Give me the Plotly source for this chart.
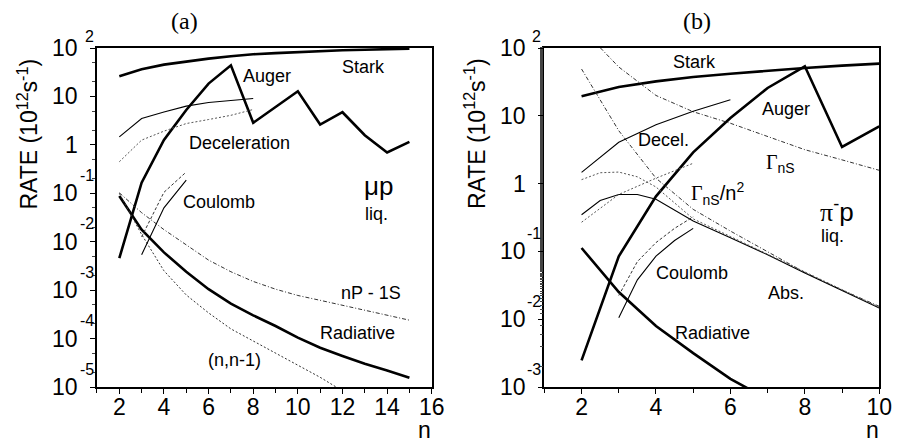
import numpy as np
import plotly.graph_objects as go

W, H = 909, 445

# ---------------- Panel (a): mu p, liquid ----------------
n_a = [2, 3, 4, 5, 6, 7, 8, 9, 10, 11, 12, 13, 14, 15]
stark_a_log = [1.416, 1.56, 1.657, 1.725, 1.78, 1.828, 1.87, 1.895, 1.918, 1.935, 1.952, 1.965, 1.976, 1.986]
auger_a_log = [-2.34, -0.78, 0.10, 0.72, 1.265, 1.643, 0.455, 0.78, 1.107, 0.42, 0.674, 0.20, -0.157, 0.063]
rad_a_log = [-1.056, -1.75, -2.22, -2.62, -2.98, -3.28, -3.52, -3.74, -3.98, -4.19, -4.36, -4.52, -4.66, -4.81]
np1s_a_log = [-0.99, -1.40, -1.75, -2.07, -2.38, -2.62, -2.82, -2.98, -3.11, -3.21, -3.31, -3.41, -3.51, -3.62]
nn1_n = [2, 3, 4, 5, 6, 7, 8, 9, 10, 11, 12]
nn1_a_log = [-1.0, -1.85, -2.6, -3.1, -3.47, -3.80, -4.05, -4.30, -4.55, -4.80, -5.08]
dec_n = [2, 3, 4, 5, 6, 7, 8]
dec_a_log = [0.166, 0.544, 0.68, 0.80, 0.874, 0.92, 0.956]
decdot_a_log = [-0.349, 0.098, 0.283, 0.44, 0.523, 0.61, 0.73]
coul_n = [3, 4, 5]
coul_a_log = [-2.27, -1.30, -0.73]
couldash_a_log = [-1.90, -0.98, -0.56]

# ---------------- Panel (b): pi- p, liquid ----------------
n_b = [2, 3, 4, 5, 6, 7, 8, 9, 10]
stark_b_log = [1.287, 1.425, 1.508, 1.572, 1.62, 1.666, 1.705, 1.74, 1.769]
auger_b_log = [-2.607, -1.073, -0.188, 0.461, 0.968, 1.41, 1.73, 0.54, 0.845]
gns_b_log = [2.29, 1.72, 1.30, 1.06, 0.89, 0.70, 0.50, 0.35, 0.196]
gnsn2_b_log = [1.69, 0.78, 0.08, -0.38, -0.70, -1.00, -1.31, -1.57, -1.81]
abs_n = [2, 2.5, 3, 3.5, 4, 5, 6, 7, 8, 9, 10]
abs_b_log = [-0.46, -0.25, -0.16, -0.16, -0.23, -0.55, -0.80, -1.05, -1.32, -1.58, -1.835]
hump_b_log = [0.058, 0.16, 0.17, 0.10, -0.05, -0.52, -0.78, -1.04, -1.31, -1.57, -1.825]
rise_n = [2, 3, 4, 5]
rise_b_log = [-0.57, -0.16, 0.08, 0.30]
decel_b_n = [2, 3, 4, 5, 6]
decel_b_log = [0.166, 0.609, 0.869, 1.066, 1.238]
coul_b_n = [3, 3.5, 4, 4.5, 5]
coul_b_log = [-1.98, -1.42, -1.07, -0.84, -0.66]
couldash_b_log = [-1.65, -1.15, -0.87, -0.66, -0.49]
rad_b_n = [2, 3, 4, 5, 6, 7]
rad_b_log = [-0.95, -1.60, -2.10, -2.50, -2.88, -3.18]

a_major = [2, 4, 6, 8, 10, 12, 14, 16]
a_minor = list(range(1, 17))
b_major = [2, 4, 6, 8, 10]
b_minor = list(range(1, 11))


def lin(v):
    return [10 ** x for x in v]


fig = go.Figure()

THICK = 2.6
THIN = 1.1
DOT = "2px,2px"
DASH = "3px,2px"
DASHDOT = "4px,2px,1px,2px"


def add(x, ylog, width, dash, ax, color="black"):
    fig.add_trace(go.Scatter(
        x=x, y=lin(ylog), mode="lines",
        line=dict(color=color, width=width, dash=dash),
        xaxis="x" if ax == 1 else "x2", yaxis="y" if ax == 1 else "y2",
        showlegend=False, hoverinfo="skip"))


# panel a
add(n_a, stark_a_log, THICK, "solid", 1)
add(n_a, auger_a_log, THICK, "solid", 1)
add(n_a, rad_a_log, THICK, "solid", 1)
add(n_a, np1s_a_log, 1.0, DASHDOT, 1, "#333")
add(nn1_n, nn1_a_log, 1.0, DOT, 1, "#333")
add(dec_n, dec_a_log, THIN, "solid", 1)
add(dec_n, decdot_a_log, 1.0, DOT, 1, "#555")
add(coul_n, coul_a_log, THIN, "solid", 1)
add(coul_n, couldash_a_log, 1.0, DASH, 1, "#333")

# panel b
add(n_b, stark_b_log, THICK, "solid", 2)
add(n_b, auger_b_log, THICK, "solid", 2)
add(rad_b_n, rad_b_log, THICK, "solid", 2)
add(n_b, gns_b_log, 1.0, DASHDOT, 2, "#333")
add(n_b, gnsn2_b_log, 1.0, DASHDOT, 2, "#333")
add(abs_n, abs_b_log, THIN, "solid", 2)
add(abs_n, hump_b_log, 1.0, DOT, 2, "#555")
add(rise_n, rise_b_log, 1.0, DOT, 2, "#555")
add(decel_b_n, decel_b_log, THIN, "solid", 2)
add(coul_b_n, coul_b_log, THIN, "solid", 2)
add(coul_b_n, couldash_b_log, 1.0, DASH, 2, "#333")


def px(x):
    return x / W


def py(y):
    return 1 - y / H


TOP, BOT = 48, 387
AL, AR = 98.4, 438
BL, BR = 552.25, 892

axis_common = dict(showline=True, linecolor="black", linewidth=1.5, mirror=True,
                   showgrid=False, zeroline=False, ticks="outside", tickcolor="black",
                   tickwidth=1.2)

fig.update_layout(
    width=W, height=H, margin=dict(l=0, r=0, t=0, b=0),
    plot_bgcolor="white", paper_bgcolor="white",
    font=dict(family="Liberation Sans, Arial, sans-serif", color="black"),
    xaxis=dict(domain=[px(AL), px(AR)], range=[1, 16], anchor="y",
               tickvals=a_major, ticklen=5, tickfont=dict(size=23), ticklabelstandoff=-6,
               minor=dict(tickvals=a_minor, ticks="outside", ticklen=4, tickcolor="black", showgrid=False),
               **axis_common),
    yaxis=dict(domain=[py(BOT), py(TOP)], type="log", range=[-5, 2], anchor="x",
               tickvals=[10 ** k for k in range(-5, 3)], showticklabels=False, ticklen=5,
               minor=dict(ticks="outside", ticklen=3, tickcolor="#444", showgrid=False),
               **axis_common),
    xaxis2=dict(domain=[px(BL), px(BR)], range=[1, 10], anchor="y2",
                tickvals=b_major, ticklen=5, tickfont=dict(size=23), ticklabelstandoff=-6,
                minor=dict(tickvals=b_minor, ticks="outside", ticklen=4, tickcolor="black", showgrid=False),
                **axis_common),
    yaxis2=dict(domain=[py(BOT), py(TOP)], type="log", range=[-3, 2], anchor="x2",
                tickvals=[10 ** k for k in range(-3, 3)], showticklabels=False, ticklen=5,
                minor=dict(ticks="outside", ticklen=3, tickcolor="#444", showgrid=False),
                **axis_common),
)

ann = []


def txt(x, y, s, size=18, family=None, xanchor="center", yanchor="middle", **kw):
    f = dict(size=size, color="black")
    if family:
        f["family"] = family
    ann.append(dict(x=px(x), y=py(y), xref="paper", yref="paper", text=s, showarrow=False,
                    font=f, xanchor=xanchor, yanchor=yanchor, **kw))


# y tick labels (PAW style: mantissa with exponent raised at the axis)
def ylabels(axis_left, yref, kmin, kmax):
    for k in range(kmin, kmax + 1):
        base = "1" if k == 0 else "10"
        ann.append(dict(x=px(axis_left - 17), y=k, xref="paper", yref=yref, text=base,
                        showarrow=False, font=dict(size=23, color="black"),
                        xanchor="right", yanchor="middle"))
        if k not in (0, 1):
            ann.append(dict(x=px(axis_left - 1), y=k, xref="paper", yref=yref, text=str(k),
                            showarrow=False, font=dict(size=16, color="black"),
                            xanchor="right", yanchor="middle", yshift=11 if k == 2 else 18))


ylabels(AL, "y", -5, 2)
ylabels(BL, "y2", -3, 2)

# axis titles
ytitle = "RATE (10<sup>12</sup>s<sup>-1</sup>)"
for xc in (28, 482):
    ann.append(dict(x=px(xc), y=py(134), xref="paper", yref="paper", text=ytitle, textangle=-90,
                    showarrow=False, font=dict(size=23, color="black"),
                    xanchor="center", yanchor="middle"))
txt(431, 445, "n", size=23, yanchor="bottom")
txt(885, 445, "n", size=23, yanchor="bottom")

# panel titles
txt(187, 21, "(a)", size=24, family="Liberation Serif, DejaVu Serif, serif")
txt(707, 21, "(b)", size=24, family="Liberation Serif, DejaVu Serif, serif")

# labels (a)
txt(369, 67, "Stark")
txt(271, 76, "Auger")
txt(243, 143, "Deceleration")
txt(222, 202, "Coulomb")
txt(384, 186, "μp", size=26)
txt(382, 214, "liq.")
txt(376, 293, "nP - 1S")
txt(363, 333, "Radiative")
txt(238, 360, "(n,n-1)")

# labels (b)
txt(705, 62, "Stark")
txt(797, 109, "Auger")
txt(673, 140, "Decel.")
txt(792, 163, '<span style="font-family:Liberation Serif">Γ</span><sub>nS</sub>', size=20)
txt(728, 193, '<span style="font-family:Liberation Serif">Γ</span><sub>nS</sub>/n<sup>2</sup>', size=20)
txt(849, 210, '<span style="font-family:Liberation Serif">π</span><sup>-</sup>p', size=26)
txt(845, 236, "liq.")
txt(702, 273, "Coulomb")
txt(797, 293, "Abs.")
txt(723, 333, "Radiative")

fig.update_layout(annotations=ann)
fig.write_html("out.html")
